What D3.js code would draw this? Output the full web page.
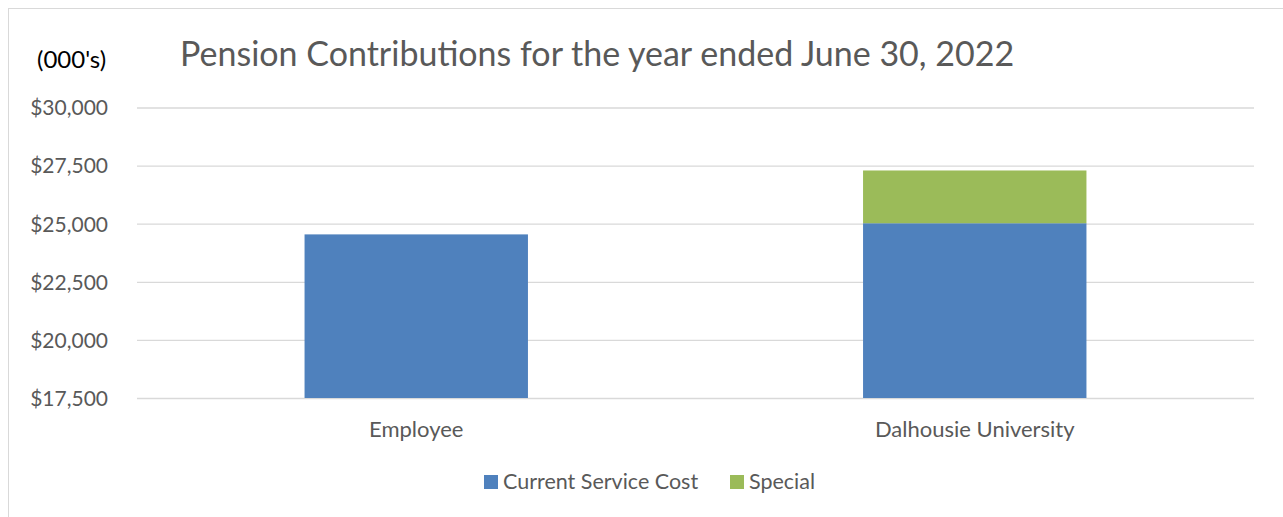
<!DOCTYPE html>
<html>
<head>
<meta charset="utf-8">
<script src="https://cdn.jsdelivr.net/npm/d3@7"></script>
<style>
  body { margin: 0; background: #fff; }
  text { font-family: Lato, "Open Sans", sans-serif; }
</style>
</head>
<body>
<div id="chart"></div>
<script>
// data (000's)
var categories = ["Employee", "Dalhousie University"];
var seriesNames = ["Current Service Cost", "Special"];
var currentService = [24540, 25020];
var special = [0, 2270];
var yTicks = [17500, 20000, 22500, 25000, 27500, 30000];
var colors = ["#4f81bd", "#9bbb59"];

var totalW = 1283, totalH = 517;
var plotL = 137, plotR = 1254, plotT = 107.5, plotB = 398;

var svg = d3.select("#chart").append("svg")
	.attr("width", totalW)
	.attr("height", totalH);

// frame
svg.append("rect")
	.attr("x", 8.5).attr("y", 8.5)
	.attr("width", totalW + 10).attr("height", totalH + 10)
	.attr("fill", "none")
	.attr("stroke", "#d9d9d9");

var x = d3.scaleBand().domain(categories).range([plotL, plotR]).paddingInner(0.6).paddingOuter(0.3);
var y = d3.scaleLinear().domain([17500, 30000]).range([plotB, plotT]);

// grid
svg.append("g")
	.attr("transform", "translate(" + plotL + ",0)")
	.call(d3.axisLeft(y).tickValues(yTicks).tickSize(-(plotR - plotL)).tickFormat(""))
	.call(function(g) {
		g.select(".domain").remove();
		g.selectAll("line").attr("stroke", "#d9d9d9").attr("stroke-width", 1.3);
	});

// y labels
svg.append("g")
	.attr("transform", "translate(108,0)")
	.call(d3.axisLeft(y).tickValues(yTicks).tickSize(0).tickPadding(0)
		.tickFormat(function(d) { return "$" + d3.format(",")(d); }))
	.call(function(g) {
		g.select(".domain").remove();
		g.selectAll("text").attr("fill", "#595959").style("font-size", "21px").attr("dy", "0.35em");
	});

// stacked bars
var rows = categories.map(function(c, i) {
	return { cat: c, cur: currentService[i], sp: special[i] };
});
var layers = d3.stack().keys(["cur", "sp"])(rows);

svg.selectAll("g.layer")
	.data(layers)
	.enter().append("g")
		.attr("class", "layer")
		.attr("fill", function(d, i) { return colors[i]; })
	.selectAll("rect")
	.data(function(d) { return d; })
	.enter().append("rect")
		.attr("x", function(d) { return x(d.data.cat); })
		.attr("width", x.bandwidth())
		.attr("y", function(d) { return y(Math.max(d[1], 17500)); })
		.attr("height", function(d) { return Math.max(0, y(Math.max(d[0], 17500)) - y(d[1])); });

// category labels
svg.append("g")
	.attr("transform", "translate(0," + plotB + ")")
	.call(d3.axisBottom(x).tickSize(0).tickPadding(0))
	.call(function(g) {
		g.select(".domain").remove();
		g.selectAll("text").attr("fill", "#595959").style("font-size", "22px").attr("dy", "39px");
	});

// title
svg.append("text")
	.attr("x", 180).attr("y", 66)
	.attr("fill", "#595959")
	.style("font-size", "34px")
	.text("Pension Contributions for the year ended June 30, 2022");

svg.append("text")
	.attr("x", 37).attr("y", 68)
	.attr("fill", "#000")
	.style("font-size", "24px")
	.text("(000's)");

// legend
var legend = svg.append("g").attr("transform", "translate(484,475)");
var lx = [0, 246];
seriesNames.forEach(function(n, i) {
	legend.append("rect")
		.attr("x", lx[i]).attr("y", 0)
		.attr("width", 14).attr("height", 14)
		.attr("fill", colors[i]);
	legend.append("text")
		.attr("x", lx[i] + 19).attr("y", 14)
		.attr("fill", "#595959")
		.style("font-size", "21.5px")
		.text(n);
});
</script>
</body>
</html>
